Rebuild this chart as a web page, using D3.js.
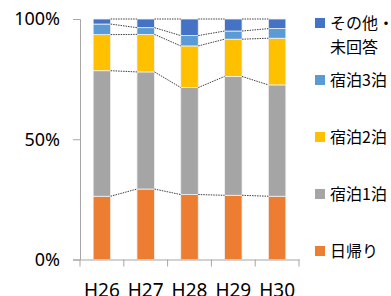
<!DOCTYPE html>
<html>
<head>
<meta charset="utf-8">
<script src="https://cdn.jsdelivr.net/npm/d3@7"></script>
<style>
  body { margin: 0; background: #fff; }
  svg { display: block; }
  .tick-label { font-family: "Noto Sans", sans-serif; fill: #000; }
  .legend text { font-family: "Noto Sans CJK JP", sans-serif; font-size: 16px; fill: #000; }
</style>
</head>
<body>
<div id="chart"></div>
<script>
const years = ['H26', 'H27', 'H28', 'H29', 'H30']
const seriesNames = ['日帰り', '宿泊1泊', '宿泊2泊', '宿泊3泊', 'その他・未回答']
const higaeri = [26.3, 29.3, 27.0, 26.7, 26.3]
const haku1 = [52.2, 48.7, 44.5, 49.4, 46.3]
const haku2 = [15.0, 15.6, 17.3, 15.5, 19.4]
const haku3 = [4.4, 2.8, 4.3, 3.4, 4.0]
const other = [2.1, 3.6, 6.9, 5.0, 4.0]
const yTicks = [0, 0.5, 1]
const colors = ['#ED7D31', '#A5A5A5', '#FFC000', '#5B9BD5', '#4472C4']

const width = 391
const height = 296
const margin = { left: 80, right: 92, top: 19, bottom: 36 }

const seriesValues = [higaeri, haku1, haku2, haku3, other]
const table = years.map((y, i) => {
  const row = { year: y }
  seriesNames.forEach((s, k) => { row[s] = seriesValues[k][i] })
  return row
})

const stack = d3.stack().keys(seriesNames).offset(d3.stackOffsetExpand)
const layers = stack(table)

const svg = d3.select('#chart').append('svg')
  .attr('width', width)
  .attr('height', height)

const x = d3.scaleBand()
  .domain(years)
  .range([margin.left, width - margin.right])
  .paddingInner(0.6)
  .paddingOuter(0.3)

const y = d3.scaleLinear()
  .domain([0, 1])
  .range([height - margin.bottom - 0.5, margin.top])

// bars
svg.append('g')
  .selectAll('g')
  .data(layers)
  .join('g')
  .attr('fill', (d, i) => colors[i])
  .selectAll('rect')
  .data(d => d)
  .join('rect')
  .attr('x', d => x(d.data.year))
  .attr('y', d => y(d[1]))
  .attr('width', x.bandwidth())
  .attr('height', d => y(d[0]) - y(d[1]))
  .attr('stroke', '#f2f2f2')
  .attr('stroke-width', 0.8)

// series lines between bars
const links = []
layers.forEach(layer => {
  for (let i = 0; i < layer.length - 1; i++) {
    links.push({ a: layer[i], b: layer[i + 1] })
  }
})
svg.append('g')
  .selectAll('line')
  .data(links)
  .join('line')
  .attr('x1', d => x(d.a.data.year) + x.bandwidth())
  .attr('x2', d => x(d.b.data.year))
  .attr('y1', d => y(d.a[1]))
  .attr('y2', d => y(d.b[1]))
  .attr('stroke', '#404040')
  .attr('stroke-width', 1)
  .attr('stroke-dasharray', '1.5,1')

// y axis
const yAxis = svg.append('g')
  .attr('transform', `translate(${margin.left},0)`)
  .call(d3.axisLeft(y).tickValues(yTicks).tickFormat(d3.format('.0%')).tickSize(7).tickPadding(13))
yAxis.select('.domain').attr('stroke', '#a6a6a6')
yAxis.selectAll('.tick line').attr('stroke', '#a6a6a6')
yAxis.selectAll('.tick text').attr('class', 'tick-label').attr('font-size', 18)

// x axis
const xAxis = svg.append('g')
  .attr('transform', `translate(0,${y(0)})`)
  .call(d3.axisBottom(x).tickSize(0).tickPadding(24))
xAxis.select('.domain').attr('stroke', '#a6a6a6')
xAxis.selectAll('.tick text').attr('class', 'tick-label').attr('font-size', 19)

// category separators on x axis
const step = x.step()
const sepX = d3.range(years.length + 1).map(i => margin.left + i * step)
xAxis.selectAll('.sep')
  .data(sepX)
  .join('line')
  .attr('class', 'sep')
  .attr('x1', d => d)
  .attr('x2', d => d)
  .attr('y1', 0)
  .attr('y2', 7)
  .attr('stroke', '#a6a6a6')

// legend (top to bottom reversed order)
const legend = svg.append('g').attr('class', 'legend')
const legendItems = seriesNames.map((s, i) => ({ name: s, color: colors[i] })).reverse()
const item = legend.selectAll('g')
  .data(legendItems)
  .join('g')
  .attr('transform', (d, i) => `translate(315,${23 + i * 57})`)
item.append('rect')
  .attr('x', 0)
  .attr('y', -5)
  .attr('width', 10)
  .attr('height', 10)
  .attr('fill', d => d.color)
item.append('text')
  .attr('x', 15)
  .attr('y', 0)
  .attr('dy', '0.35em')
  .each(function(d) {
    const t = d3.select(this)
    if (d.name === 'その他・未回答') {
      t.append('tspan').attr('x', 15).text('その他・')
      t.append('tspan').attr('x', 15).attr('dy', 24).text('未回答')
    } else {
      t.text(d.name)
    }
  })
</script>
</body>
</html>
